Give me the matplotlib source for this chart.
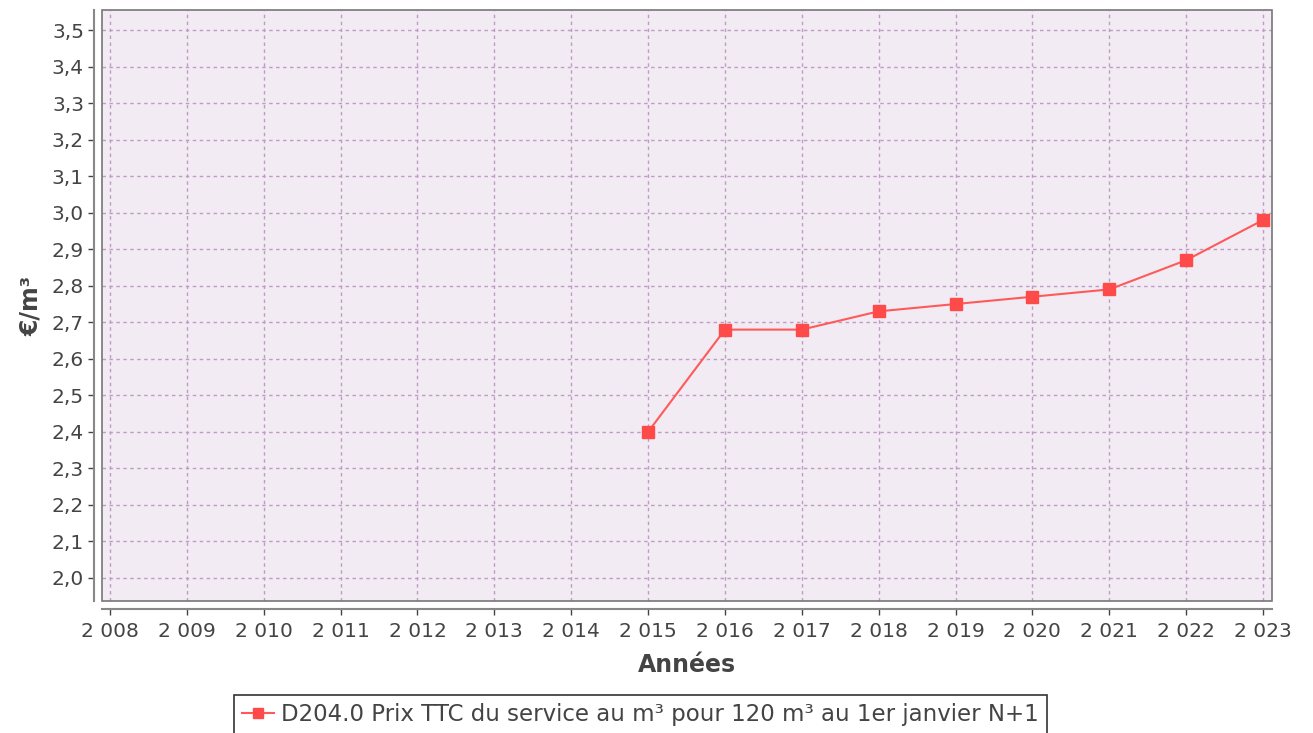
import matplotlib
matplotlib.use("Agg")
import matplotlib.pyplot as plt
from matplotlib.patches import Rectangle

years = [2015, 2016, 2017, 2018, 2019, 2020, 2021, 2022, 2023]
prix = [2.40, 2.68, 2.68, 2.73, 2.75, 2.77, 2.79, 2.87, 2.98]
xticks = list(range(2008, 2024))
yticks = [2.0, 2.1, 2.2, 2.3, 2.4, 2.5, 2.6, 2.7, 2.8, 2.9, 3.0, 3.1, 3.2, 3.3, 3.4, 3.5]
label = "D204.0 Prix TTC du service au m³ pour 120 m³ au 1er janvier N+1"

plt.rcParams['font.family'] = ['DejaVu Sans']
fig = plt.figure(figsize=(13.13, 7.33), dpi=100)
ax = fig.add_axes([102/1313, 1-601/733, 1170/1313, 591/733])
ax.set_facecolor('#f2ebf3')

ax.plot(years, prix, color='#ff5a5a', lw=1.5, marker='s', ms=9,
        markerfacecolor='#ff4a4a', markeredgecolor='#ff4a4a', label=label, zorder=3)

ax.set_xlim(2007.896, 2023.117)
ax.set_ylim(1.937, 3.555)
ax.set_xticks(xticks)
ax.set_xticklabels(["2 %03d" % (y - 2000) for y in xticks])
ax.set_yticks(yticks)
ax.set_yticklabels([("%.1f" % v).replace('.', ',') for v in yticks])

ax.grid(True, color='#bf9cc4', linestyle=(0, (2.5, 2.5)), lw=1.0)
ax.tick_params(labelsize=14.5, colors='#444444', length=4, width=1, pad=3)
ax.tick_params(axis='x', pad=5)

for s in ['top', 'right']:
    ax.spines[s].set_visible(False)
for s in ['left', 'bottom']:
    ax.spines[s].set_position(('outward', 6))
    ax.spines[s].set_color('#888888')
    ax.spines[s].set_linewidth(1.5)
ax.add_patch(Rectangle((0, 0), 1, 1, transform=ax.transAxes, fill=False,
                       edgecolor='#777777', lw=1.2, clip_on=False, zorder=4))

ax.set_xlabel("Années", fontsize=17, fontweight='bold', color='#444444', labelpad=9)
ax.set_ylabel("€/m³", fontsize=17, fontweight='bold', color='#444444', labelpad=6)

leg = fig.legend(loc='lower center', bbox_to_anchor=(0.488, -0.017), fontsize=16.5,
                 frameon=True, fancybox=False, edgecolor='black', handlelength=1.4,
                 handletextpad=0.3, borderpad=0.35, markerscale=0.8)
leg.get_frame().set_linewidth(1.2)
for t in leg.get_texts():
    t.set_color('#444444')

fig.savefig("out.png", dpi=100)
